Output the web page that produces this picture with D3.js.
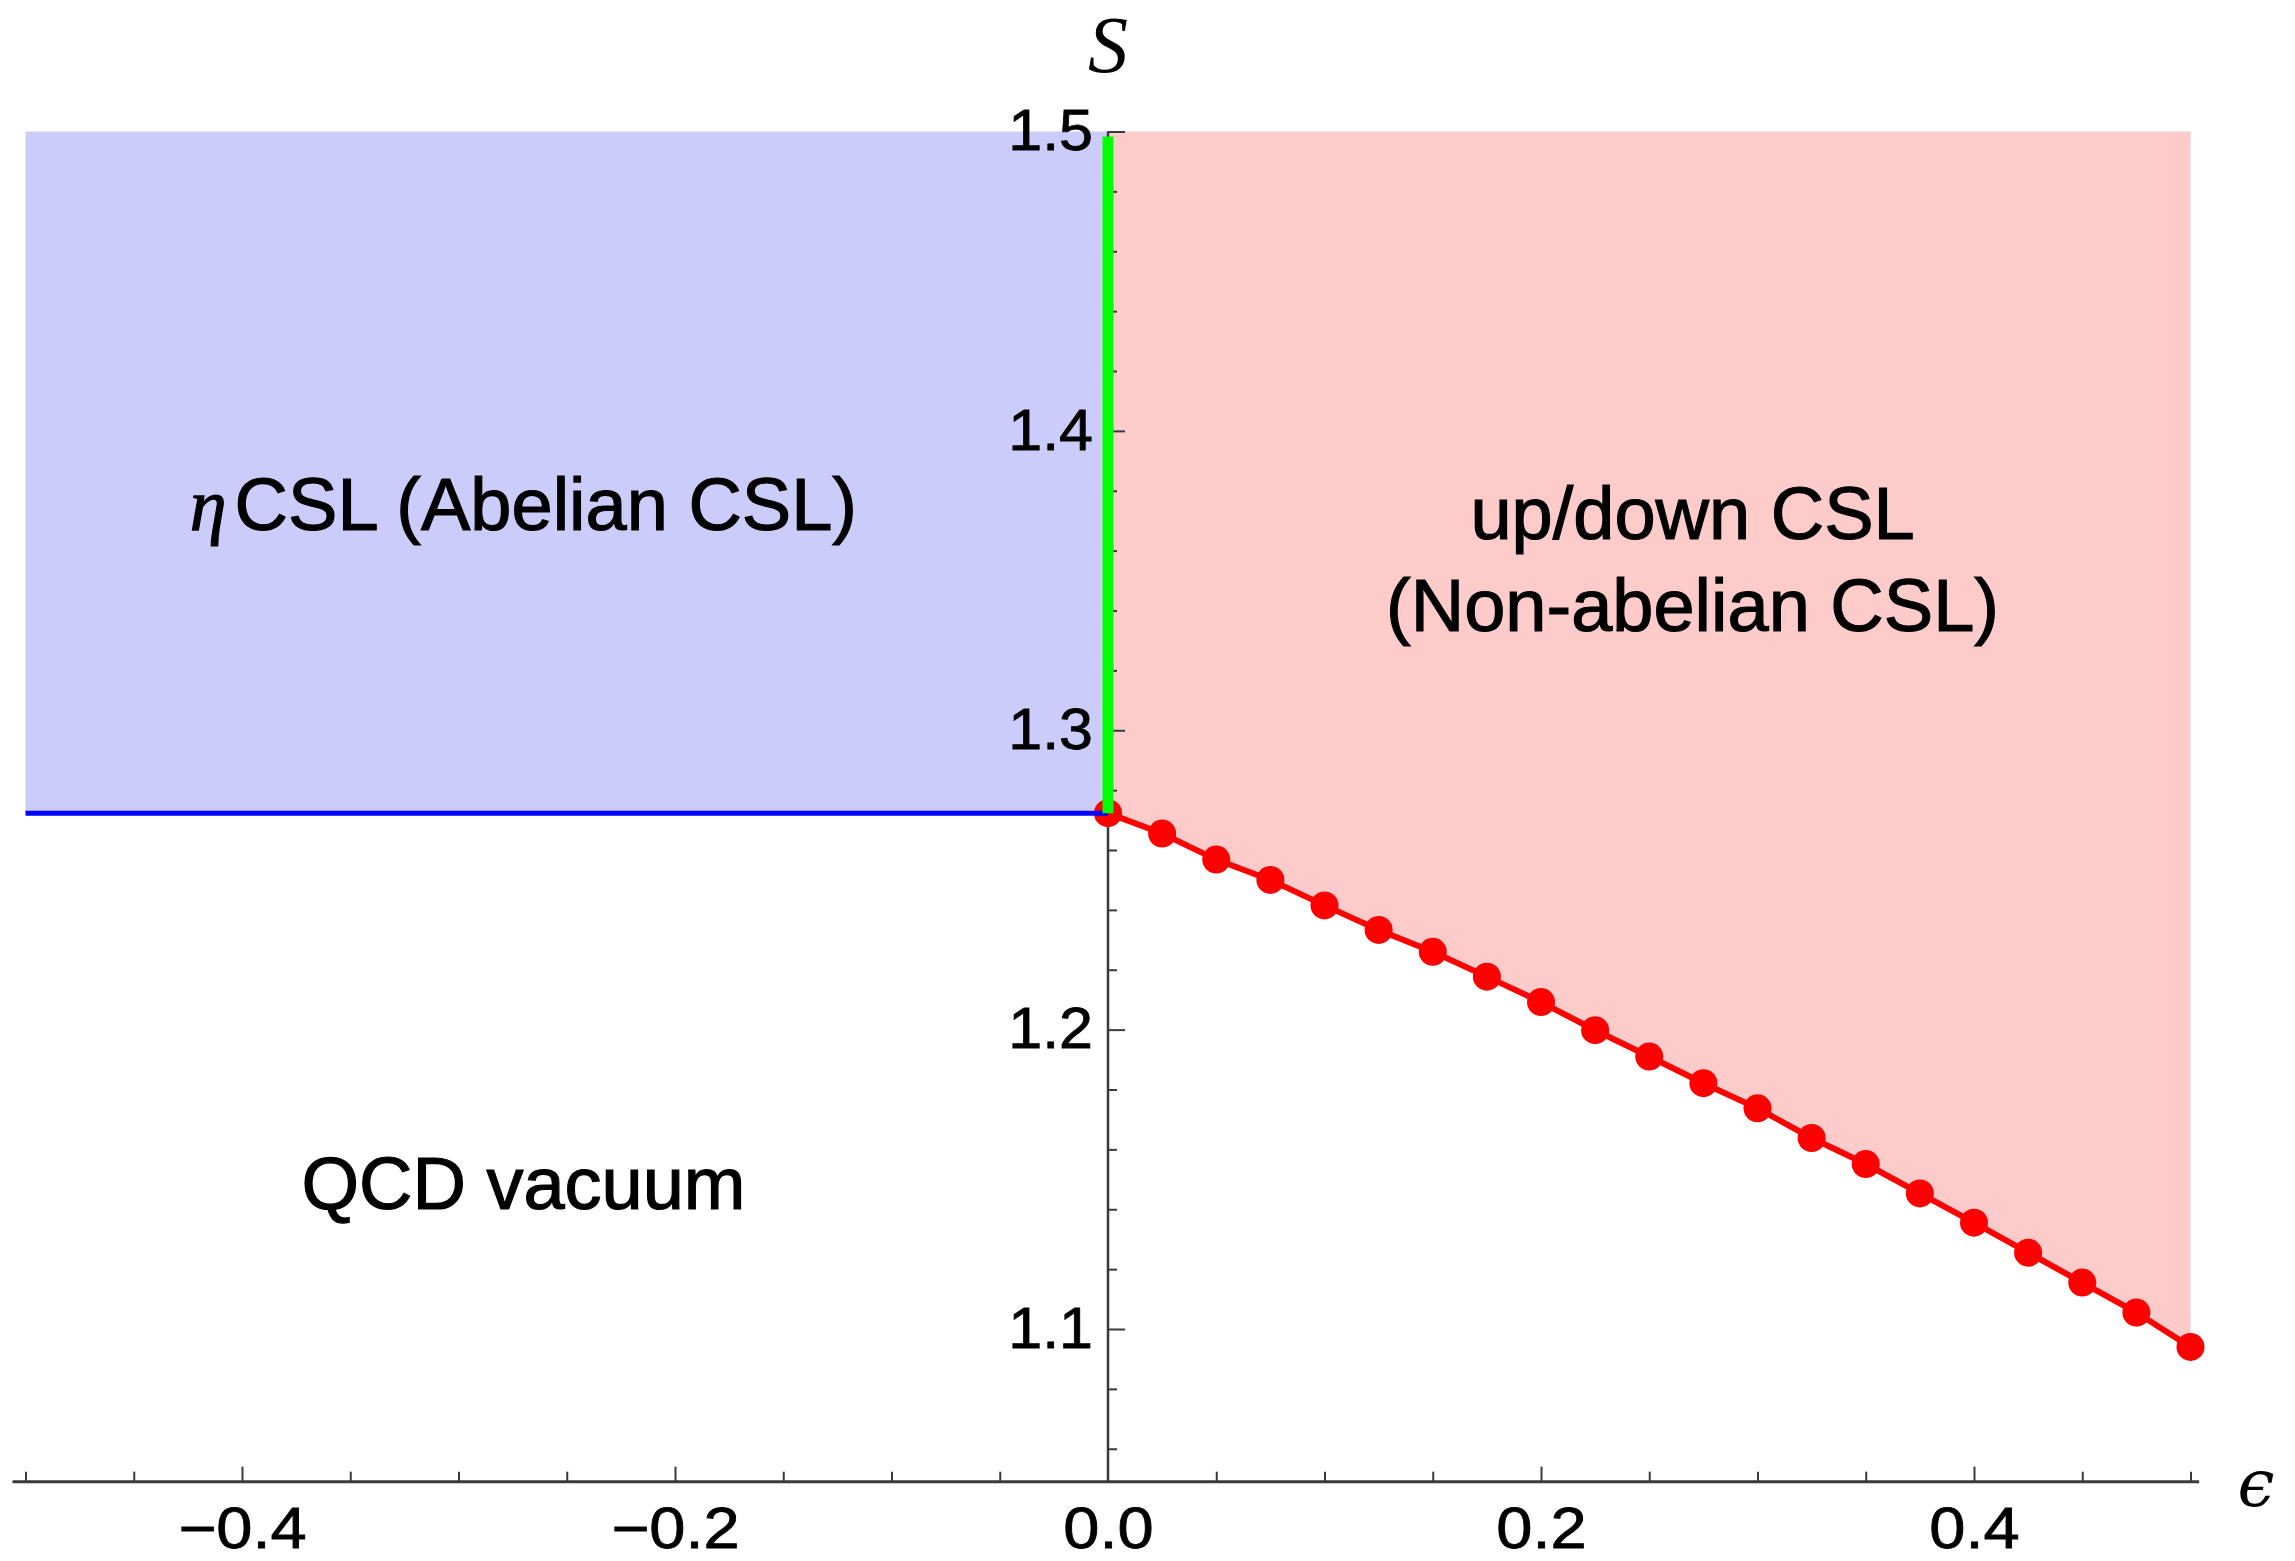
<!DOCTYPE html>
<html>
<head>
<meta charset="utf-8">
<script src="https://cdn.jsdelivr.net/npm/d3@7"></script>
<style>
  html, body { margin: 0; padding: 0; background: #ffffff; }
  svg { display: block; }
</style>
</head>
<body>
<svg id="chart" width="2295" height="1561"></svg>
<script>
// Phase boundary between the QCD vacuum and the up/down CSL, sampled in epsilon
const epsilonSamples = [0, 0.025, 0.05, 0.075, 0.1, 0.125, 0.15, 0.175, 0.2, 0.225, 0.25,
                        0.275, 0.3, 0.325, 0.35, 0.375, 0.4, 0.425, 0.45, 0.475, 0.5];
const boundaryS = [1.2723, 1.2655, 1.2568, 1.2500, 1.2415, 1.2333, 1.2260, 1.2177, 1.2092, 1.1998, 1.1910,
                   1.1821, 1.1737, 1.1638, 1.1551, 1.1453, 1.1355, 1.1255, 1.1155, 1.1055, 1.0940];

// eta CSL threshold (horizontal line for epsilon < 0)
const etaThresholdS = 1.2723;
const etaRangeEpsilon = [-0.5, 0];
const sTop = 1.5;

// Axis ticks
const xMajorTicks = [-0.4, -0.2, 0.0, 0.2, 0.4];
const xMinorTicks = [-0.5, -0.45, -0.35, -0.3, -0.25, -0.15, -0.1, -0.05,
                     0.05, 0.1, 0.15, 0.25, 0.3, 0.35, 0.45, 0.5];
const yMajorTicks = [1.1, 1.2, 1.3, 1.4, 1.5];
const yMinorTicks = [1.06, 1.08, 1.12, 1.14, 1.16, 1.18, 1.22, 1.24, 1.26, 1.28,
                     1.32, 1.34, 1.36, 1.38, 1.42, 1.44, 1.46, 1.48];

// Region labels (anchored at plot coordinates: epsilon, S of the baseline)
const etaLabel = { symbol: "η", text: "CSL (Abelian CSL)", e: -0.27, s: 1.3669 };
const upDownLabel = { lines: ["up/down CSL", "(Non-abelian CSL)"], e: 0.27, s: 1.3639 };
const vacuumLabel = { text: "QCD vacuum", e: -0.27, s: 1.1401 };

const svg = d3.select("#chart");

const x = d3.scaleLinear().domain([-0.5, 0.5]).range([25.5, 2190.5]);
const y = d3.scaleLinear().domain([1.1, 1.5]).range([1329, 131.5]);

const xAxisS = 1.049;            // where the horizontal axis crosses
const xAxisExtent = [-0.506, 0.504];

const sansFont = "'Liberation Sans', Arial, Helvetica, sans-serif";
const serifFont = "'Liberation Serif', 'DejaVu Serif', 'Times New Roman', serif";

// ---- filled regions ----
const etaRegion = d3.area()
  .x(d => x(d))
  .y0(y(sTop))
  .y1(y(etaThresholdS));
svg.append("path")
  .datum(etaRangeEpsilon)
  .attr("d", etaRegion)
  .attr("fill", "#ccccfb");

const boundaryPts = epsilonSamples.map((e, i) => ({ e: e, s: boundaryS[i] }));
const upDownRegion = d3.area()
  .x(d => x(d.e))
  .y0(y(sTop))
  .y1(d => y(d.s));
svg.append("path")
  .datum(boundaryPts)
  .attr("d", upDownRegion)
  .attr("fill", "#fecbcb");

// ---- axes ----
const axisColor = "#3a3a3a";

// horizontal axis line
svg.append("line")
  .attr("x1", x(xAxisExtent[0])).attr("x2", x(xAxisExtent[1]))
  .attr("y1", y(xAxisS)).attr("y2", y(xAxisS))
  .attr("stroke", axisColor).attr("stroke-width", 3);

// vertical axis line
svg.append("line")
  .attr("x1", x(0)).attr("x2", x(0))
  .attr("y1", y(xAxisS)).attr("y2", y(sTop))
  .attr("stroke", axisColor).attr("stroke-width", 2.5);

const fmt = d3.format(".1f");

const xMajor = svg.append("g")
  .attr("transform", `translate(0,${y(xAxisS)})`)
  .call(d3.axisBottom(x).tickValues(xMajorTicks).tickSizeInner(-15).tickSizeOuter(0)
        .tickPadding(26).tickFormat(fmt));
const xMinor = svg.append("g")
  .attr("transform", `translate(0,${y(xAxisS)})`)
  .call(d3.axisBottom(x).tickValues(xMinorTicks).tickSizeInner(-10).tickSizeOuter(0)
        .tickFormat(""));

const yMajor = svg.append("g")
  .attr("transform", `translate(${x(0)},0)`)
  .call(d3.axisLeft(y).tickValues(yMajorTicks).tickSizeInner(-17).tickSizeOuter(0)
        .tickPadding(14).tickFormat(fmt));
const yMinor = svg.append("g")
  .attr("transform", `translate(${x(0)},0)`)
  .call(d3.axisLeft(y).tickValues(yMinorTicks).tickSizeInner(-9).tickSizeOuter(0)
        .tickFormat(""));

[xMajor, xMinor, yMajor, yMinor].forEach(g => {
  g.select(".domain").remove();
  g.selectAll(".tick line").attr("stroke", axisColor).attr("stroke-width", 2);
  g.selectAll(".tick text")
    .attr("fill", "#000")
    .attr("stroke", "#000")
    .attr("stroke-width", 0.8)
    .style("font-family", sansFont)
    .style("font-size", "57px");
});
// slightly wider tick numerals
xMajor.selectAll(".tick text").attr("transform", "scale(1.14,1)");
yMajor.selectAll(".tick text").attr("transform", "scale(1.07,1)");
xMajor.selectAll(".tick")
  .filter(d => d === 0)
  .select("line").remove();

// ---- boundary curves ----
const boundaryLine = d3.line().x(d => x(d.e)).y(d => y(d.s));
svg.append("path")
  .datum(boundaryPts)
  .attr("d", boundaryLine)
  .attr("fill", "none")
  .attr("stroke", "#ff0000")
  .attr("stroke-width", 6);
svg.append("g")
  .selectAll("circle")
  .data(boundaryPts)
  .join("circle")
  .attr("cx", d => x(d.e))
  .attr("cy", d => y(d.s))
  .attr("r", 14)
  .attr("fill", "#ff0000");

// eta CSL threshold
svg.append("line")
  .attr("x1", x(etaRangeEpsilon[0])).attr("x2", x(etaRangeEpsilon[1]))
  .attr("y1", y(etaThresholdS)).attr("y2", y(etaThresholdS))
  .attr("stroke", "#0000ff").attr("stroke-width", 5);

// transition between eta CSL and up/down CSL at epsilon = 0
svg.append("line")
  .attr("x1", x(0)).attr("x2", x(0))
  .attr("y1", y(etaThresholdS)).attr("y2", y(sTop) + 5)
  .attr("stroke", "#00ff00").attr("stroke-width", 11);

// ---- axis labels ----
svg.append("text")
  .attr("x", x(0)).attr("y", 72)
  .attr("text-anchor", "middle")
  .style("font-family", serifFont)
  .style("font-style", "italic")
  .style("font-size", "80px")
  .text("S");

svg.append("text")
  .attr("x", 2256).attr("y", 1506)
  .attr("text-anchor", "middle")
  .style("font-family", "'DejaVu Serif', 'Liberation Serif', serif")
  .style("font-style", "italic")
  .style("font-size", "66px")
  .text("ϵ");

// ---- region labels ----
const labelStyle = sel => sel
  .attr("text-anchor", "middle")
  .attr("fill", "#000")
  .attr("stroke", "#000")
  .attr("stroke-width", 1.2)
  .style("font-family", sansFont)
  .style("font-size", "74px");

const etaText = svg.append("text")
  .attr("x", x(etaLabel.e)).attr("y", y(etaLabel.s))
  .call(labelStyle);
etaText.append("tspan")
  .style("font-family", serifFont)
  .style("font-style", "italic")
  .text(etaLabel.symbol);
etaText.append("tspan")
  .attr("dx", 8)
  .text(etaLabel.text);

svg.append("text")
  .attr("x", x(upDownLabel.e)).attr("y", y(upDownLabel.s))
  .call(labelStyle)
  .selectAll("tspan")
  .data(upDownLabel.lines)
  .join("tspan")
  .attr("x", x(upDownLabel.e))
  .attr("dy", (d, i) => i === 0 ? 0 : 92)
  .text(d => d);

svg.append("text")
  .attr("x", x(vacuumLabel.e)).attr("y", y(vacuumLabel.s))
  .call(labelStyle)
  .text(vacuumLabel.text);
</script>
</body>
</html>
